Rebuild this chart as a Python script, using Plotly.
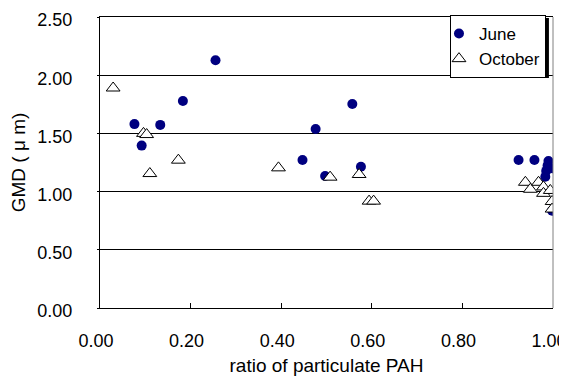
import plotly.graph_objects as go

# June data
june_x = [0.076, 0.092, 0.133, 0.183, 0.255, 0.447, 0.476, 0.497, 0.557, 0.576,
          0.924, 0.959, 0.990, 0.988, 0.985, 0.983, 0.998, 0.998]
june_y = [1.58, 1.395, 1.573, 1.779, 2.129, 1.272, 1.538, 1.134, 1.753, 1.214,
          1.272, 1.272, 1.263, 1.223, 1.178, 1.128, 1.20, 0.835]

# October data
oct_x = [0.029, 0.096, 0.103, 0.110, 0.173, 0.394, 0.508, 0.572, 0.594, 0.604,
         0.939, 0.950, 0.968, 0.979, 0.979, 0.994, 0.998, 0.998]
oct_y = [1.89, 1.50, 1.49, 1.155, 1.27, 1.204, 1.124, 1.147, 0.918, 0.918,
         1.08, 1.02, 1.08, 1.04, 0.985, 1.01, 0.915, 0.85]

y_ticks = [0.0, 0.5, 1.0, 1.5, 2.0, 2.5]
x_ticks = [0.0, 0.2, 0.4, 0.6, 0.8, 1.0]

FONT = "Liberation Sans, Arial, sans-serif"

fig = go.Figure()
fig.add_trace(go.Scatter(
    x=june_x, y=june_y, mode="markers", name="June",
    marker=dict(symbol="circle", size=10, color="#000080", line=dict(width=0)),
))
fig.add_trace(go.Scatter(
    x=oct_x, y=oct_y, mode="markers", name="October",
    marker=dict(symbol="triangle-up", size=12, color="white",
                line=dict(color="black", width=1)),
))

# legend shadow and right border
fig.add_shape(type="rect", xref="paper", yref="paper",
              x0=0.7815, x1=0.991, y0=0.790, y1=0.9966,
              fillcolor="black", line=dict(width=0), layer="above")
fig.add_shape(type="line", xref="paper", yref="paper",
              x0=1, x1=1, y0=0, y1=1, line=dict(color="#808080", width=1))

fig.update_layout(
    width=559, height=368,
    margin=dict(l=92, r=14, t=9, b=68, autoexpand=False),
    paper_bgcolor="white", plot_bgcolor="white",
    font=dict(family=FONT, size=18, color="black"),
    showlegend=True,
    legend=dict(x=0.7726, y=1.0069, xanchor="left", yanchor="top",
                bgcolor="white", bordercolor="black", borderwidth=1,
                font=dict(size=17), itemwidth=30, tracegroupgap=0,
                indentation=-12),
    xaxis=dict(range=[0, 1], tickvals=x_ticks, tickformat=".2f",
               ticks="inside", ticklen=5, tickcolor="black",
               showline=True, linecolor="black", linewidth=1, mirror=True,
               showgrid=False, zeroline=False, ticklabelstandoff=16,
               ticklabelshift=-4,
               automargin=False, tickfont=dict(size=18),
               ticklabeloverflow="allow",
               title=dict(text="ratio of particulate PAH", standoff=10,
                          font=dict(size=19))),
    yaxis=dict(range=[0, 2.5], tickvals=y_ticks, tickformat=".2f",
               ticks="outside", ticklen=2, tickcolor="black",
               showline=True, linecolor="black", linewidth=1,
               showgrid=True, gridcolor="black", gridwidth=1,
               zeroline=False, ticklabelstandoff=21, ticklabelshift=3,
               automargin=False,
               tickfont=dict(size=18), ticklabeloverflow="allow",
               title=dict(text="GMD ( μ m)", standoff=11, font=dict(size=19))),
)

fig.write_html("out.html")
